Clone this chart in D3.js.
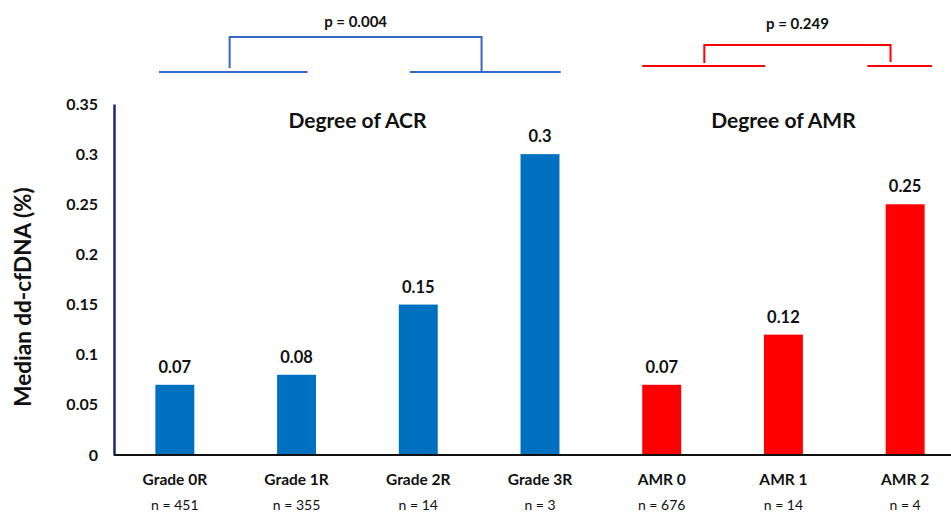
<!DOCTYPE html>
<html><head><meta charset="utf-8">
<script src="https://cdn.jsdelivr.net/npm/d3@7"></script>
<style>body{margin:0;background:#fff}svg{display:block}text{font-family:Lato,"Open Sans",sans-serif;font-weight:bold}</style>
</head><body><svg id="c" width="951" height="513"></svg>
<script>
const categories = ["Grade 0R","Grade 1R","Grade 2R","Grade 3R","AMR 0","AMR 1","AMR 2"];
const counts = ["n = 451","n = 355","n = 14","n = 3","n = 676","n = 14","n = 4"];
const values = [0.07,0.08,0.15,0.3,0.07,0.12,0.25];
const groups = ["ACR","ACR","ACR","ACR","AMR","AMR","AMR"];
const yTicks = [0,0.05,0.1,0.15,0.2,0.25,0.3,0.35];
const groupTitles = ["Degree of ACR","Degree of AMR"];
const pValues = ["p = 0.004","p = 0.249"];

(function(){
const svg = d3.select("#c");
const mL = 114, mR = 966, mT = 104, mB = 455;
const x = d3.scaleBand().domain(categories).range([mL, mR]).paddingInner(0.68).paddingOuter(0.34);
const y = d3.scaleLinear().domain([0,0.35]).range([mB, mT]);
const color = d => d === "ACR" ? "#0070C0" : "#FF0000";

svg.selectAll("rect.bar").data(categories).enter().append("rect")
  .attr("x", d => x(d)).attr("width", x.bandwidth())
  .attr("y", (d,i) => y(values[i])).attr("height", (d,i) => y(0) - y(values[i]))
  .attr("fill", (d,i) => color(groups[i]));

svg.selectAll("text.val").data(categories).enter().append("text")
  .attr("x", d => x(d) + x.bandwidth()/2).attr("y", (d,i) => y(values[i]) - 12)
  .attr("text-anchor","middle").attr("font-size",16.5).attr("fill","#111")
  .text((d,i) => values[i]);

const ya = svg.append("g").attr("transform",`translate(${mL},0)`)
  .call(d3.axisLeft(y).tickValues(yTicks).tickSize(0).tickPadding(16).tickFormat(d => String(+d.toFixed(2))));
ya.select(".domain").attr("stroke","#1b2a6b").attr("stroke-width",2.5);
ya.selectAll("text").attr("font-size",16).attr("fill","#111").style("font-family","Lato,sans-serif").style("font-weight","bold");

const xa = svg.append("g").attr("transform",`translate(0,${mB})`)
  .call(d3.axisBottom(x).tickSize(0).tickPadding(0));
xa.select(".domain").attr("d", `M${mL},0H951`).attr("stroke","#111").attr("stroke-width",2);
xa.selectAll("text").attr("dy",null).attr("y",30).attr("font-size",15.5).attr("fill","#111").style("font-family","Lato,sans-serif").style("font-weight","bold");

svg.selectAll("text.n").data(categories).enter().append("text")
  .attr("x", d => x(d) + x.bandwidth()/2).attr("y", 510)
  .attr("text-anchor","middle").attr("font-size",14).attr("fill","#111").style("font-weight","normal")
  .text((d,i) => counts[i]);

svg.append("text").attr("transform",`translate(31,297) rotate(-90)`)
  .attr("text-anchor","middle").attr("font-size",22.5).attr("fill","#111").text("Median dd-cfDNA (%)");

const cx = c => x(c) + x.bandwidth()/2;
svg.append("text").attr("x",(cx("Grade 1R")+cx("Grade 2R"))/2).attr("y",128).attr("text-anchor","middle")
  .attr("font-size",21).attr("fill","#111").text(groupTitles[0]);
svg.append("text").attr("x",cx("AMR 1")).attr("y",128).attr("text-anchor","middle")
  .attr("font-size",21).attr("fill","#111").text(groupTitles[1]);

const step = x.step();
function line(pts, col){ svg.append("path").attr("d", d3.line()(pts)).attr("fill","none").attr("stroke",col).attr("stroke-width",2); }
const blue = "#3566c8", red = "#FF0000";
const bL1 = cx("Grade 0R") - 0.13*step, bL2 = cx("Grade 1R") + 0.09*step;
const bR1 = cx("Grade 2R") - 0.07*step, bR2 = cx("Grade 3R") + 0.17*step;
const bLm = cx("Grade 0R") + 0.45*step, bRm = cx("Grade 3R") - 0.48*step;
line([[bL1,72],[bL2,72]], blue);
line([[bR1,72],[bR2,72]], blue);
line([[bLm,68],[bLm,37],[bRm,37],[bRm,72]], blue);
svg.append("text").attr("x",(bLm+bRm)/2).attr("y",27).attr("text-anchor","middle").attr("font-size",15).attr("fill","#111").text(pValues[0]);
const rL1 = cx("AMR 0") - 0.16*step, rL2 = cx("AMR 1") - 0.15*step;
const rR1 = cx("AMR 2") - 0.31*step, rR2 = cx("AMR 2") + 0.22*step;
const rLm = cx("AMR 0") + 0.35*step, rRm = cx("AMR 2") - 0.12*step;
line([[rL1,66],[rL2,66]], red);
line([[rR1,66],[rR2,66]], red);
line([[rLm,63],[rLm,45],[rRm,45],[rRm,62]], red);
svg.append("text").attr("x",(rLm+rRm)/2).attr("y",29).attr("text-anchor","middle").attr("font-size",15).attr("fill","#111").text(pValues[1]);
})();
</script></body></html>
